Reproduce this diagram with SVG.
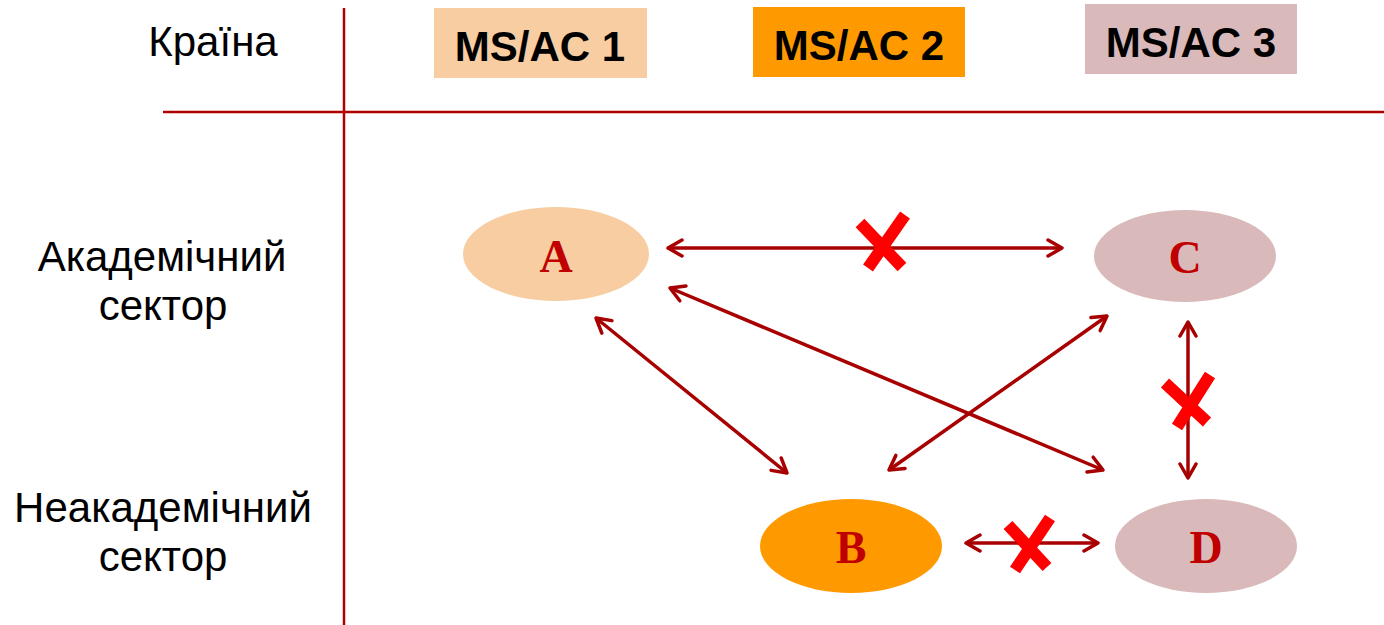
<svg xmlns="http://www.w3.org/2000/svg" width="1384" height="625" viewBox="0 0 1384 625">
<defs>
<style>
.lbl{font-family:"Liberation Sans",Arial,sans-serif;font-size:42px;fill:#000;text-anchor:middle}
.hdr{font-family:"Liberation Sans",Arial,sans-serif;font-size:42px;font-weight:bold;fill:#000;text-anchor:middle}
.ltr{font-family:"Liberation Serif","Times New Roman",serif;font-size:46px;font-weight:bold;fill:#C00000;text-anchor:middle}
.grid{stroke:#B00000;stroke-width:2.5;fill:none}
.conn{stroke:#A80000;stroke-width:3.5;fill:none;marker-start:url(#ah);marker-end:url(#ah)}
.x{stroke:#FF0000;stroke-width:12;fill:none}
.c1{fill:#F8CDA2}.c2{fill:#FF9900}.c3{fill:#D9B9B9}
</style>
<marker id="ah" viewBox="0 0 20 20" refX="18" refY="10" markerWidth="20" markerHeight="20" markerUnits="userSpaceOnUse" orient="auto-start-reverse">
<path d="M4,2 L18,10 L4,18" fill="none" stroke="#A80000" stroke-width="3.5" stroke-linecap="round" stroke-linejoin="round"/>
</marker>
</defs>
<rect width="1384" height="625" fill="#fff"/>
<g id="grid">
<line class="grid" x1="344" y1="8" x2="344" y2="625"/>
<line class="grid" x1="163" y1="112" x2="1384" y2="112"/>
</g>
<g id="labels">
<text class="lbl" x="213" y="56">Країна</text>
<text class="lbl" x="162" y="271">Академічний</text>
<text class="lbl" x="163" y="320">сектор</text>
<text class="lbl" x="163" y="522">Неакадемічний</text>
<text class="lbl" x="163" y="571">сектор</text>
</g>
<g id="ms1"><rect class="c1" x="434" y="8" width="213" height="70"/><text class="hdr" x="540" y="61">MS/AC 1</text></g>
<g id="ms2"><rect class="c2" x="753" y="7" width="212" height="70"/><text class="hdr" x="859" y="60">MS/AC 2</text></g>
<g id="ms3"><rect class="c3" x="1085" y="4" width="212" height="70"/><text class="hdr" x="1191" y="57">MS/AC 3</text></g>
<g id="nodeA"><ellipse class="c1" cx="556" cy="254" rx="93" ry="47"/><text class="ltr" x="556" y="272">A</text></g>
<g id="nodeC"><ellipse class="c3" cx="1185" cy="256" rx="91" ry="46"/><text class="ltr" x="1185" y="273">C</text></g>
<g id="nodeB"><ellipse class="c2" cx="851" cy="546" rx="91" ry="47"/><text class="ltr" x="851" y="563">B</text></g>
<g id="nodeD"><ellipse class="c3" cx="1206" cy="546" rx="91" ry="47"/><text class="ltr" x="1206" y="563">D</text></g>
<g id="connectors">
<line class="conn" x1="668" y1="248" x2="1062" y2="248"/>
<line class="conn" x1="1107" y1="316" x2="889" y2="470"/>
<line class="conn" x1="670" y1="288" x2="1103" y2="470"/>
<line class="conn" x1="596" y1="318" x2="787" y2="473"/>
<line class="conn" x1="1188" y1="322" x2="1188" y2="478"/>
<line class="conn" x1="966" y1="543" x2="1098" y2="543"/>
</g>
<g id="crosses">
<path class="x" d="M860,223 L902,267 M905,215 L868,268"/>
<path class="x" d="M1165,383 L1207,422 M1210,375 L1177,427"/>
<path class="x" d="M1008,525 L1047,567 M1050,518 L1015,570"/>
</g>
</svg>
